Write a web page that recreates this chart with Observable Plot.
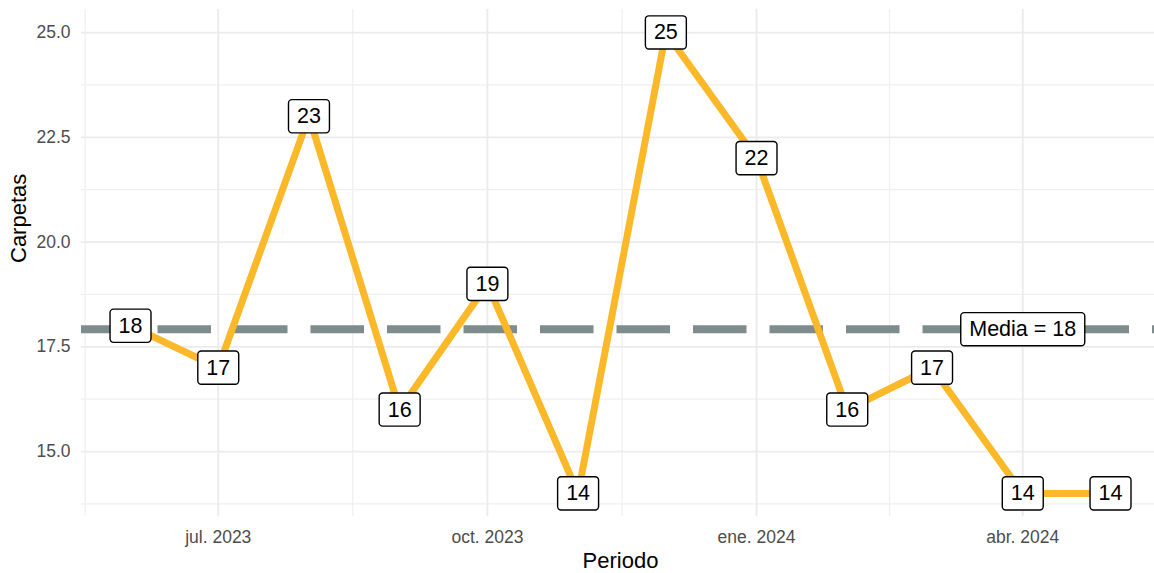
<!DOCTYPE html>
<html>
<head>
<meta charset="utf-8">
<script src="https://cdn.jsdelivr.net/npm/d3@7"></script>
<script src="https://cdn.jsdelivr.net/npm/@observablehq/plot@0.6"></script>
<style>
  html, body { margin: 0; padding: 0; background: #fff; }
  #chart { width: 1154px; height: 573px; overflow: hidden; }
</style>
</head>
<body>
<div id="chart"></div>
<script>
// ---- data ----
const periods = ["2023-06-01","2023-07-01","2023-08-01","2023-09-01","2023-10-01","2023-11-01",
                 "2023-12-01","2024-01-01","2024-02-01","2024-03-01","2024-04-01","2024-05-01"];
const carpetas = [18, 17, 23, 16, 19, 14, 25, 22, 16, 17, 14, 14];
const xTickDates = ["2023-07-01","2023-10-01","2024-01-01","2024-04-01"];
const xTickLabels = ["jul. 2023","oct. 2023","ene. 2024","abr. 2024"];
const yTicks = [15, 17.5, 20, 22.5, 25];
const yTickLabels = ["15.0", "17.5", "20.0", "22.5", "25.0"];
const meanLabelDate = "2024-04-01";
const xTitle = "Periodo";
const yTitle = "Carpetas";

// ---- derived ----
const parse = d3.utcParse("%Y-%m-%d");
const data = periods.map((p, i) => ({date: parse(p), value: carpetas[i]}));
const meanValue = d3.mean(carpetas);
const meanLabel = `Media = ${Math.round(meanValue)}`;
const xTicks = xTickDates.map(parse);
const tickLabelMap = new Map(xTicks.map((d, i) => [+d, xTickLabels[i]]));

// ggplot-like 5% expansion
const [xmin, xmax] = d3.extent(data, d => d.date);
const xspan = xmax - xmin;
const xDomain = [new Date(+xmin - 0.05 * xspan), new Date(+xmax + 0.05 * xspan)];
const [ymin, ymax] = d3.extent(carpetas);
const yspan = ymax - ymin;
const yDomain = [ymin - 0.05 * yspan, ymax + 0.05 * yspan];

// minor breaks: midpoints between major breaks (extended one step each side)
const ext = [d3.utcMonth.offset(xTicks[0], -3), ...xTicks, d3.utcMonth.offset(xTicks[xTicks.length - 1], 3)];
const xMinor = d3.pairs(ext).map(([a, b]) => new Date((+a + +b) / 2));
const yExt = [yTicks[0] - 2.5, ...yTicks, yTicks[yTicks.length - 1] + 2.5];
const yMinor = d3.pairs(yExt).map(([a, b]) => (a + b) / 2);

const FONT = "'Liberation Sans', Arial, sans-serif";
const LINE = "#FBB829";
const MEAN = "#7F8C8D";

const chart = Plot.plot({
  width: 1154,
  height: 573,
  marginLeft: 81,
  marginRight: -5,
  marginTop: 9,
  marginBottom: 57,
  style: {fontFamily: FONT, background: "#fff", overflow: "visible"},
  x: {type: "utc", domain: xDomain},
  y: {domain: yDomain},
  marks: [
    Plot.gridY(yMinor, {stroke: "#EFEFEF", strokeOpacity: 1, strokeWidth: 1.2}),
    Plot.gridX(xMinor, {stroke: "#EFEFEF", strokeOpacity: 1, strokeWidth: 1.2}),
    Plot.gridY(yTicks, {stroke: "#EBEBEB", strokeOpacity: 1, strokeWidth: 1.8}),
    Plot.gridX(xTicks, {stroke: "#EBEBEB", strokeOpacity: 1, strokeWidth: 1.8}),
    Plot.axisX(xTicks, {tickSize: 0, tickPadding: 14, fontSize: 17.5, fill: "#4D4D4D",
      tickFormat: d => tickLabelMap.get(+d), label: null}),
    Plot.axisY(yTicks, {tickSize: 0, tickPadding: 11, fontSize: 17.5, fill: "#4D4D4D",
      tickFormat: (d, i) => yTickLabels[yTicks.indexOf(d)], label: null}),
    Plot.text([xTitle], {frameAnchor: "bottom", dy: 51, lineAnchor: "bottom",
      fontSize: 22, fill: "#000"}),
    Plot.text([yTitle], {frameAnchor: "left", dx: -56, rotate: -90, lineAnchor: "bottom",
      fontSize: 22, fill: "#000"}),
    Plot.ruleY([meanValue], {stroke: MEAN, strokeWidth: 8, strokeDasharray: "53.5,23"}),
    Plot.line(data, {x: "date", y: "value", stroke: LINE, strokeWidth: 7,
      strokeLinejoin: "round"}),
    Plot.text(data, {x: "date", y: "value", text: d => String(d.value), fontSize: 21.5,
      fill: "#000", lineAnchor: "middle"}),
    Plot.text([meanValue], {x: () => parse(meanLabelDate), y: d => d, text: () => meanLabel,
      fontSize: 21.5, fill: "#000", lineAnchor: "middle"})
  ]
});

document.getElementById("chart").append(chart);

// draw label boxes behind the label texts (like ggplot geom_label)
const NS = "http://www.w3.org/2000/svg";
const textGroups = Array.from(chart.querySelectorAll(':scope > g[aria-label="text"]'));
const labelGroups = textGroups.slice(-2); // value labels + mean label
labelGroups.forEach(g => {
  g.querySelectorAll("text").forEach(t => {
    const b = t.getBBox();
    const padX = 8.5, padY = 4.6;
    const r = document.createElementNS(NS, "rect");
    r.setAttribute("x", b.x - padX);
    r.setAttribute("y", b.y - padY);
    r.setAttribute("width", b.width + 2 * padX);
    r.setAttribute("height", b.height + 2 * padY);
    r.setAttribute("rx", 3.5);
    r.setAttribute("ry", 3.5);
    r.setAttribute("fill", "#fff");
    r.setAttribute("stroke", "#000");
    r.setAttribute("stroke-width", 1.4);
    const tr = t.getAttribute("transform");
    if (tr) r.setAttribute("transform", tr);
    t.parentNode.insertBefore(r, t);
  });
});
</script>
</body>
</html>
